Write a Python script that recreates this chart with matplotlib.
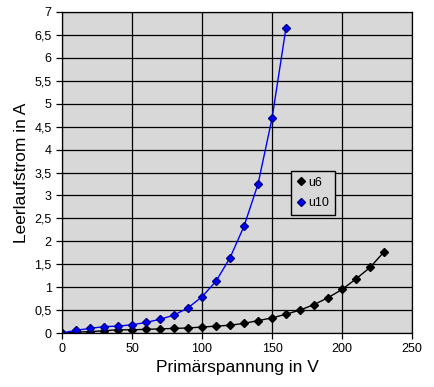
import matplotlib
matplotlib.use('Agg')
import matplotlib.pyplot as plt
import numpy as np
from matplotlib.ticker import FuncFormatter, MultipleLocator

plt.rcParams['font.family'] = ['Liberation Sans', 'DejaVu Sans']

# primary voltage (V)
u6_x = np.arange(0, 231, 10)
u6_y = [0, 0.02, 0.03, 0.05, 0.07, 0.07, 0.08, 0.09, 0.10, 0.11, 0.13, 0.15,
        0.17, 0.21, 0.27, 0.33, 0.41, 0.50, 0.62, 0.77, 0.95, 1.18, 1.43, 1.77]

u10_x = np.arange(0, 161, 10)
u10_y = [0, 0.06, 0.10, 0.14, 0.15, 0.18, 0.23, 0.30, 0.39, 0.55, 0.79, 1.13,
         1.64, 2.33, 3.25, 4.68, 6.66]

fig = plt.figure(figsize=(4.34, 3.87), dpi=100)
ax = fig.add_axes([0.1429, 0.1395, 0.8065, 0.8295])
ax.set_facecolor('#d8d8d8')

ax.plot(u6_x, u6_y, color='black', lw=1, marker='D', ms=3.8, label='u6')
ax.plot(u10_x, u10_y, color='#0000ff', lw=1, marker='D', ms=3.8,
        mfc='#0000ff', mec='#000080', label='u10')

ax.set_xlim(0, 250)
ax.set_ylim(0, 7)
ax.xaxis.set_major_locator(MultipleLocator(50))
ax.yaxis.set_major_locator(MultipleLocator(0.5))
ax.yaxis.set_major_formatter(FuncFormatter(lambda v, p: ('%g' % v).replace('.', ',')))
ax.grid(True, color='black', lw=0.9)
ax.set_axisbelow(True)
for s in ax.spines.values():
    s.set_color('black')
    s.set_linewidth(0.9)
ax.tick_params(labelsize=9, length=4, width=0.9, direction='out')

ax.set_xlabel('Primärspannung in V', fontsize=12.5, labelpad=3)
ax.set_ylabel('Leerlaufstrom in A', fontsize=12.5)

# legend: markers only
handles = [plt.Line2D([], [], ls='none', marker='D', ms=3.8, color='black'),
           plt.Line2D([], [], ls='none', marker='D', ms=3.8, color='#0000ff', mec='#000080')]
leg = ax.legend(handles, ['u6', 'u10'], loc='upper left', bbox_to_anchor=(0.655, 0.505),
                fontsize=9, frameon=True, fancybox=False, handlelength=0.6,
                handletextpad=0.3, borderpad=0.45, labelspacing=0.7, borderaxespad=0)
leg.get_frame().set_facecolor('#d8d8d8')
leg.get_frame().set_edgecolor('black')
leg.get_frame().set_alpha(1)

fig.savefig('out.png', dpi=100)
